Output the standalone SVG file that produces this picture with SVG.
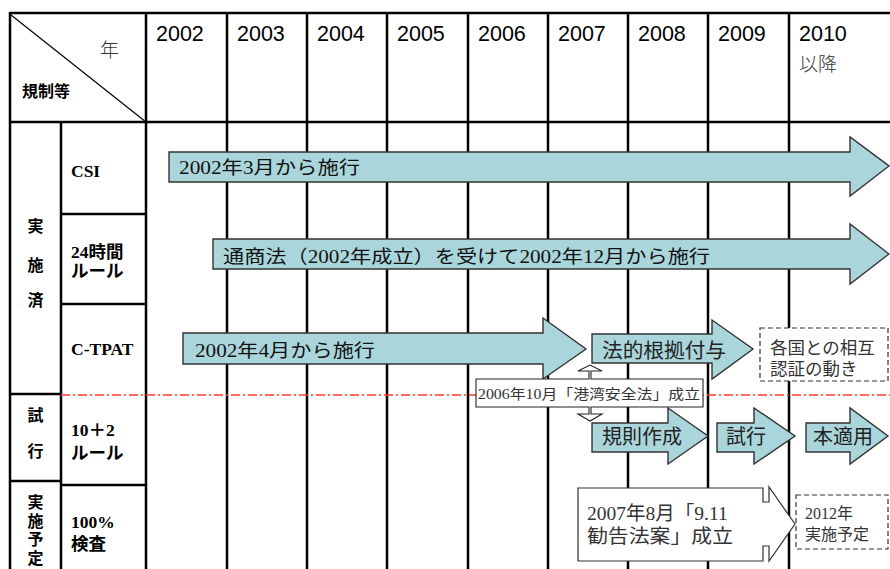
<svg xmlns="http://www.w3.org/2000/svg" width="890" height="569" viewBox="0 0 890 569">
<defs>
<style>
.grid{stroke:#000;stroke-width:2.5;fill:none}
.thin{stroke:#000;stroke-width:1.2;fill:none}
.arrow{fill:#aad6db;stroke:#333;stroke-width:1.4;stroke-linejoin:miter}
.year{font-family:"Liberation Sans","Noto Sans CJK JP",sans-serif;font-size:21.5px;fill:#000}
.gray{font-family:"Noto Sans CJK JP",sans-serif;font-size:19px;fill:#333;font-weight:300}
.lbl{font-family:"Liberation Serif","Noto Sans CJK JP",serif;font-size:17.5px;font-weight:bold;fill:#000}
.grp{font-family:"Noto Sans CJK JP",sans-serif;font-size:16px;font-weight:bold;fill:#000;text-anchor:middle}
.at{font-family:"Liberation Serif","Noto Sans CJK JP",serif;font-size:18.5px;fill:#111}
.big{font-family:"Noto Sans CJK JP",sans-serif;font-size:20px;fill:#222}
.dash{fill:#fff;stroke:#333;stroke-width:1.2;stroke-dasharray:5 3}
.note{font-family:"Liberation Serif","Noto Sans CJK JP",serif;fill:#333}
</style>
</defs>
<rect x="0" y="0" width="890" height="569" fill="#fff"/>
<g id="grid">
<line class="grid" x1="10" y1="13" x2="890" y2="13" stroke-width="3.5"/>
<line class="grid" x1="10" y1="122" x2="890" y2="122"/>
<line class="grid" x1="10" y1="12" x2="10" y2="569"/>
<line class="grid" x1="146" y1="12" x2="146" y2="569"/>
<line class="grid" x1="61" y1="122" x2="61" y2="569"/>
<line class="grid" x1="227" y1="12" x2="227" y2="569"/>
<line class="grid" x1="307" y1="12" x2="307" y2="569"/>
<line class="grid" x1="387" y1="12" x2="387" y2="569"/>
<line class="grid" x1="468" y1="12" x2="468" y2="569"/>
<line class="grid" x1="548" y1="12" x2="548" y2="569"/>
<line class="grid" x1="628" y1="12" x2="628" y2="569"/>
<line class="grid" x1="708" y1="12" x2="708" y2="569" stroke-width="3"/>
<line class="grid" x1="789" y1="12" x2="789" y2="569"/>
<line class="grid" x1="61" y1="214" x2="146" y2="214"/>
<line class="grid" x1="61" y1="304" x2="146" y2="304"/>
<line class="grid" x1="10" y1="394" x2="61" y2="394"/>
<line class="grid" x1="10" y1="481" x2="61" y2="481" stroke-width="2"/>
<line class="grid" x1="61" y1="485" x2="146" y2="485"/>
<line class="thin" x1="11" y1="15" x2="146" y2="122"/>
<line x1="61" y1="395" x2="890" y2="395" stroke="#ff3b2f" stroke-width="1.3" stroke-dasharray="9 3 2 3"/>
</g>
<g id="header">
<text class="year" x="156" y="41">2002</text>
<text class="year" x="237" y="41">2003</text>
<text class="year" x="317" y="41">2004</text>
<text class="year" x="397" y="41">2005</text>
<text class="year" x="478" y="41">2006</text>
<text class="year" x="558" y="41">2007</text>
<text class="year" x="638" y="41">2008</text>
<text class="year" x="718" y="41">2009</text>
<text class="year" x="799" y="41">2010</text>
<text class="gray" x="799" y="71" font-size="21" font-weight="400" fill="#2a2a2a">以降</text>
<text class="gray" x="100" y="57">年</text>
<text class="grp" x="46" y="97" font-size="17.5">規制等</text>
</g>
<g id="row-labels">
<text class="grp" x="35.5" y="232">実</text>
<text class="grp" x="35.5" y="271">施</text>
<text class="grp" x="35.5" y="306">済</text>
<text class="grp" x="35.5" y="421">試</text>
<text class="grp" x="35.5" y="457">行</text>
<text class="grp" x="35.5" y="494" font-size="16" style="writing-mode:vertical-rl;text-anchor:start;letter-spacing:2.5px">実施予定</text>
<text class="lbl" x="71" y="177">CSI</text>
<text class="lbl" x="71" y="258">24時間</text>
<text class="lbl" x="71" y="277" font-weight="normal">ルール</text>
<text class="lbl" x="71" y="355">C-TPAT</text>
<text class="lbl" x="71" y="436">10＋2</text>
<text class="lbl" x="71" y="459" font-weight="normal">ルール</text>
<text class="lbl" x="71" y="528">100%</text>
<text class="lbl" x="71" y="550">検査</text>
</g>
<g id="connectors">
<path class="arrow" d="M169,152 H850 V137 L889,166 L850,196 V182 H169 Z"/>
<path class="arrow" d="M213,239 H850 V224 L889,254 L850,284 V269 H213 Z"/>
<path class="arrow" d="M183,333 H543 V318 L586,349 L543,379 V364 H183 Z"/>
<path class="arrow" d="M592,334 H712 V320 L753,349 L712,379 V363 H592 Z"/>
<path class="arrow" d="M592,423 H668 V408 L708,436 L668,464 V452 H592 Z"/>
<path class="arrow" d="M717,423 H754 V408 L795,436 L754,464 V452 H717 Z"/>
<path class="arrow" d="M806,423 H850 V408 L888,436 L850,464 V452 H806 Z"/>
</g>
<g id="n-csi"><text class="at" x="179" y="174" textLength="181" lengthAdjust="spacingAndGlyphs">2002年3月から施行</text></g>
<g id="n-24h"><text class="at" x="223" y="263" textLength="487" lengthAdjust="spacingAndGlyphs">通商法（2002年成立）を受けて2002年12月から施行</text></g>
<g id="n-ctpat"><text class="at" x="195" y="357" textLength="180" lengthAdjust="spacingAndGlyphs">2002年4月から施行</text></g>
<g id="n-houteki"><text class="big" x="602" y="358" textLength="124" lengthAdjust="spacingAndGlyphs">法的根拠付与</text></g>
<g id="n-sogo">
<rect class="dash" x="760" y="328" width="128" height="53"/>
<text class="note" x="770" y="354" font-size="17.5">各国との相互</text>
<text class="note" x="770" y="375" font-size="17.5">認証の動き</text>
</g>
<g id="n-kisoku"><text class="big" x="602" y="444">規則作成</text></g>
<g id="n-shiko"><text class="big" x="726" y="444">試行</text></g>
<g id="n-hon"><text class="big" x="813" y="444">本適用</text></g>
<g id="n-kowan">
<path d="M476,379 H589 V371 H578 L590,365 L602,371 H591 V379 H703 V407 H591 V414 H602 L590,421 L578,414 H589 V407 H476 Z" fill="#fff" stroke="#222" stroke-width="1.1"/>
<text class="note" x="478" y="399" font-size="13.8" fill="#111" textLength="222" lengthAdjust="spacingAndGlyphs">2006年10月「港湾安全法」成立</text>
</g>
<g id="n-kankoku">
<path d="M578,488 H763 V502 H769 V487 L795,524 L769,561 V546 H763 V561 H578 Z" fill="#fff" stroke="#333" stroke-width="1.2"/>
<text class="note" x="587" y="520" font-size="19.5">2007年8月「9.11</text>
<text class="note" x="587" y="543" font-size="19.5" textLength="146" lengthAdjust="spacingAndGlyphs">勧告法案」成立</text>
</g>
<g id="n-2012">
<rect class="dash" x="796" y="495" width="92" height="54"/>
<text class="note" x="805" y="519" font-size="16">2012年</text>
<text class="note" x="805" y="540" font-size="16">実施予定</text>
</g>
</svg>
